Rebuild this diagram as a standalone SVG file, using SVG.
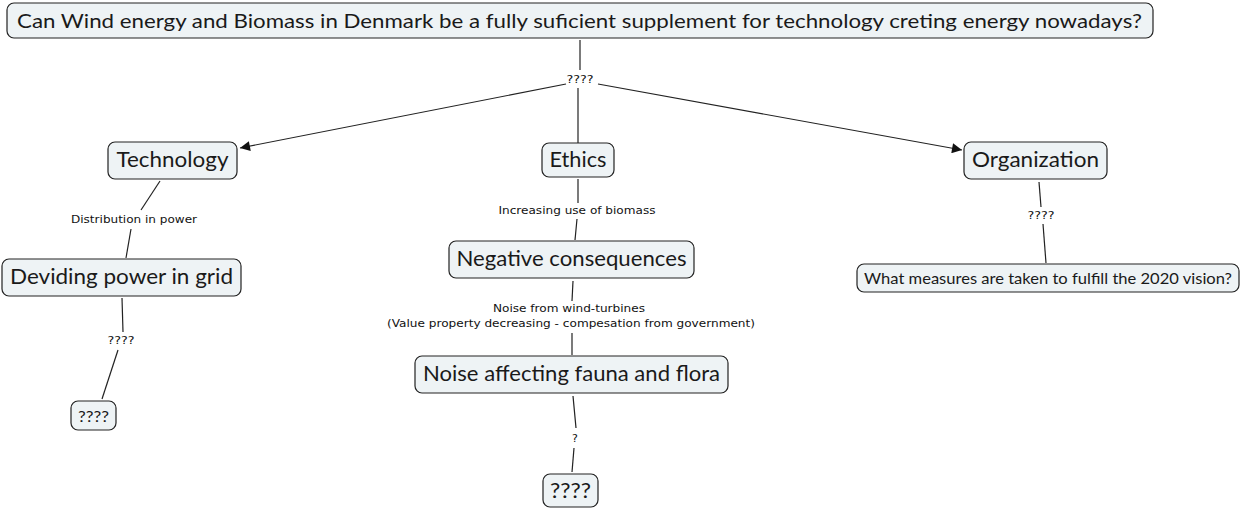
<svg xmlns="http://www.w3.org/2000/svg" width="1241" height="508" viewBox="0 0 1241 508">
<style>
.node rect{fill:#eef3f5;stroke:#222;stroke-width:1.2}
.node text{font-family:Lato,"Open Sans",sans-serif;font-weight:400;fill:#1a1a1a;text-anchor:middle;dominant-baseline:central}
.lbl{font-family:"DejaVu Sans",Verdana,sans-serif;font-size:11px;fill:#111;text-anchor:middle;dominant-baseline:central}
.conn line{stroke:#222;stroke-width:1.2}
</style>
<defs>
<marker id="arr" viewBox="0 0 10 10" refX="10" refY="5" markerWidth="12" markerHeight="10" markerUnits="userSpaceOnUse" orient="auto">
<path d="M0,0 L10,5 L0,10 z" fill="#111"/>
</marker>
</defs>
<rect width="1241" height="508" fill="#fff"/>
<g id="connectors" class="conn">
<line x1="580" y1="40" x2="580" y2="70"/>
<line x1="566" y1="84" x2="240" y2="148" marker-end="url(#arr)"/>
<line x1="578" y1="88" x2="578" y2="143"/>
<line x1="598" y1="84" x2="962" y2="150" marker-end="url(#arr)"/>
<line x1="160" y1="181" x2="141" y2="210"/>
<line x1="131" y1="229" x2="126" y2="258"/>
<line x1="122" y1="298" x2="123" y2="332"/>
<line x1="118" y1="350" x2="102" y2="399"/>
<line x1="578" y1="179" x2="578" y2="203"/>
<line x1="577" y1="219" x2="575" y2="240"/>
<line x1="573" y1="281" x2="572" y2="301"/>
<line x1="572" y1="333" x2="572" y2="355"/>
<line x1="573" y1="396" x2="576" y2="428"/>
<line x1="574" y1="448" x2="572" y2="472"/>
<line x1="1039" y1="182" x2="1041" y2="207"/>
<line x1="1043" y1="224" x2="1046" y2="263"/>
<text class="lbl" x="580" y="79" textLength="27" lengthAdjust="spacingAndGlyphs">????</text>
<text class="lbl" x="134" y="219" textLength="126" lengthAdjust="spacingAndGlyphs">Distribution in power</text>
<text class="lbl" x="121" y="340" textLength="27" lengthAdjust="spacingAndGlyphs">????</text>
<text class="lbl" x="577" y="210" textLength="157" lengthAdjust="spacingAndGlyphs">Increasing use of biomass</text>
<text class="lbl" x="569" y="308" textLength="152" lengthAdjust="spacingAndGlyphs">Noise from wind-turbines</text>
<text class="lbl" x="571" y="323" textLength="368" lengthAdjust="spacingAndGlyphs">(Value property decreasing - compesation from government)</text>
<text class="lbl" x="575" y="438">?</text>
<text class="lbl" x="1041" y="215" textLength="27" lengthAdjust="spacingAndGlyphs">????</text>
</g>
<g id="n-question" class="node">
<rect x="7" y="3" width="1146" height="35" rx="7"/>
<text x="579.5" y="20" font-size="20" textLength="1125" lengthAdjust="spacingAndGlyphs">Can Wind energy and Biomass in Denmark be a fully suficient supplement for technology creting energy nowadays?</text>
</g>
<g id="n-technology" class="node">
<rect x="108" y="142" width="129" height="37" rx="7"/>
<text x="172.5" y="158.5" font-size="22" textLength="112" lengthAdjust="spacingAndGlyphs">Technology</text>
</g>
<g id="n-ethics" class="node">
<rect x="542" y="143" width="72" height="34" rx="7"/>
<text x="578" y="158.5" font-size="22" textLength="57" lengthAdjust="spacingAndGlyphs">Ethics</text>
</g>
<g id="n-organization" class="node">
<rect x="964" y="142" width="143" height="37" rx="7"/>
<text x="1035.5" y="158.5" font-size="22" textLength="127" lengthAdjust="spacingAndGlyphs">Organization</text>
</g>
<g id="n-deviding" class="node">
<rect x="2" y="259" width="239" height="37" rx="7"/>
<text x="121.5" y="275.5" font-size="22" textLength="223" lengthAdjust="spacingAndGlyphs">Deviding power in grid</text>
</g>
<g id="n-tech-q" class="node">
<rect x="71" y="401" width="45" height="29" rx="7"/>
<text x="93.5" y="415" font-size="16" textLength="31" lengthAdjust="spacingAndGlyphs">????</text>
</g>
<g id="n-negative" class="node">
<rect x="449" y="241" width="245" height="37" rx="7"/>
<text x="571.5" y="257" font-size="22" textLength="230" lengthAdjust="spacingAndGlyphs">Negative consequences</text>
</g>
<g id="n-noise" class="node">
<rect x="415" y="356" width="313" height="37" rx="7"/>
<text x="571.5" y="372.5" font-size="22" textLength="297" lengthAdjust="spacingAndGlyphs">Noise affecting fauna and flora</text>
</g>
<g id="n-noise-q" class="node">
<rect x="543" y="474" width="55" height="33" rx="7"/>
<text x="570.5" y="489.5" font-size="21" textLength="41" lengthAdjust="spacingAndGlyphs">????</text>
</g>
<g id="n-measures" class="node">
<rect x="857" y="264" width="382" height="28" rx="7"/>
<text x="1048" y="277.5" font-size="15" textLength="368" lengthAdjust="spacingAndGlyphs">What measures are taken to fulfill the 2020 vision?</text>
</g>
</svg>
